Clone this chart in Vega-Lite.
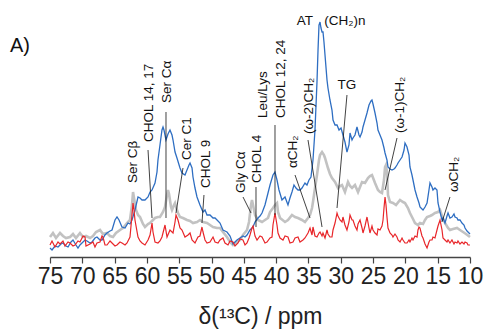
{
  "$schema": "https://vega.github.io/schema/vega-lite/v6.json",
  "width": 420,
  "height": 242,
  "autosize": {"type": "none"},
  "padding": {"left": 50, "top": 15, "right": 17, "bottom": 73},
  "background": "white",
  "config": {"view": {"stroke": null}, "font": "Liberation Sans"},
  "title": {"text": "A)", "anchor": "start", "frame": "group", "dx": -40, "dy": 52, "offset": 0, "baseline": "middle", "fontSize": 20, "fontWeight": "normal", "font": "Liberation Sans", "color": "#111"},
  "datasets": {
    "grey": [
      {"x":75.00,"y":20},{"x":74.54,"y":24},{"x":74.07,"y":19},{"x":73.45,"y":24},{"x":72.99,"y":21},{"x":72.52,"y":19},{"x":71.90,"y":20},{"x":71.44,"y":23},{"x":70.98,"y":19},{"x":70.36,"y":24},{"x":69.89,"y":20},{"x":69.43,"y":21},{"x":68.81,"y":19},{"x":68.35,"y":21},{"x":67.88,"y":25},{"x":67.26,"y":27},{"x":66.80,"y":23},{"x":66.18,"y":24},{"x":65.71,"y":21},{"x":65.25,"y":20},{"x":64.79,"y":24},{"x":64.17,"y":27},{"x":63.70,"y":29},{"x":63.08,"y":34},{"x":62.62,"y":37},{"x":62.31,"y":52},{"x":62.15,"y":65},{"x":62.00,"y":59},{"x":61.69,"y":47},{"x":61.38,"y":42},{"x":61.07,"y":40},{"x":60.61,"y":33},{"x":60.30,"y":30},{"x":59.83,"y":33},{"x":59.52,"y":34},{"x":59.06,"y":37},{"x":58.75,"y":39},{"x":58.29,"y":40},{"x":57.98,"y":40},{"x":57.51,"y":45},{"x":57.20,"y":50},{"x":56.89,"y":62},{"x":56.74,"y":67},{"x":56.58,"y":63},{"x":56.27,"y":50},{"x":56.12,"y":47},{"x":55.81,"y":52},{"x":55.65,"y":54},{"x":55.35,"y":47},{"x":55.19,"y":44},{"x":54.88,"y":40},{"x":54.42,"y":39},{"x":53.80,"y":37},{"x":53.33,"y":36},{"x":52.87,"y":34},{"x":52.25,"y":35},{"x":51.79,"y":37},{"x":51.32,"y":35},{"x":50.70,"y":34},{"x":50.24,"y":32},{"x":49.77,"y":30},{"x":49.15,"y":29},{"x":48.69,"y":29},{"x":48.23,"y":25},{"x":47.61,"y":20},{"x":47.14,"y":15},{"x":46.68,"y":12},{"x":46.06,"y":15},{"x":45.60,"y":17},{"x":45.13,"y":22},{"x":44.51,"y":27},{"x":44.20,"y":35},{"x":43.89,"y":52},{"x":43.74,"y":57},{"x":43.58,"y":52},{"x":43.27,"y":42},{"x":42.81,"y":37},{"x":42.19,"y":35},{"x":41.73,"y":37},{"x":41.26,"y":39},{"x":40.95,"y":45},{"x":40.49,"y":49},{"x":40.18,"y":52},{"x":39.87,"y":54},{"x":39.71,"y":45},{"x":39.40,"y":39},{"x":38.63,"y":35},{"x":38.17,"y":37},{"x":37.55,"y":42},{"x":37.08,"y":40},{"x":36.62,"y":39},{"x":36.00,"y":37},{"x":35.54,"y":35},{"x":35.07,"y":39},{"x":34.76,"y":42},{"x":34.45,"y":49},{"x":34.30,"y":55},{"x":33.99,"y":69},{"x":33.68,"y":82},{"x":33.37,"y":97},{"x":33.21,"y":102},{"x":32.90,"y":105},{"x":32.60,"y":102},{"x":32.44,"y":99},{"x":31.98,"y":89},{"x":31.67,"y":83},{"x":31.36,"y":79},{"x":30.89,"y":75},{"x":30.43,"y":69},{"x":30.12,"y":71},{"x":29.81,"y":72},{"x":29.35,"y":65},{"x":28.88,"y":75},{"x":28.57,"y":71},{"x":28.26,"y":69},{"x":27.80,"y":72},{"x":27.33,"y":65},{"x":27.02,"y":70},{"x":26.71,"y":75},{"x":26.25,"y":74},{"x":25.79,"y":79},{"x":25.48,"y":81},{"x":25.17,"y":82},{"x":24.70,"y":74},{"x":24.24,"y":67},{"x":23.93,"y":65},{"x":23.62,"y":64},{"x":23.31,"y":77},{"x":23.15,"y":90},{"x":23.00,"y":92},{"x":22.85,"y":85},{"x":22.69,"y":62},{"x":22.38,"y":55},{"x":21.92,"y":54},{"x":21.45,"y":52},{"x":20.83,"y":57},{"x":20.37,"y":55},{"x":20.06,"y":54},{"x":19.60,"y":49},{"x":19.29,"y":44},{"x":18.82,"y":38},{"x":18.51,"y":34},{"x":18.05,"y":32},{"x":17.74,"y":34},{"x":17.27,"y":33},{"x":16.96,"y":37},{"x":16.65,"y":40},{"x":16.19,"y":41},{"x":15.88,"y":42},{"x":15.42,"y":44},{"x":14.95,"y":45},{"x":14.64,"y":47},{"x":14.33,"y":41},{"x":13.87,"y":34},{"x":13.40,"y":29},{"x":13.10,"y":27},{"x":12.63,"y":28},{"x":12.01,"y":29},{"x":11.55,"y":27},{"x":11.08,"y":25},{"x":10.62,"y":23},{"x":10.00,"y":20}
    ],
    "blue": [
      {"x":75.00,"y":9},{"x":74.69,"y":7},{"x":74.23,"y":11},{"x":73.76,"y":10},{"x":73.30,"y":13},{"x":72.99,"y":14},{"x":72.52,"y":11},{"x":72.21,"y":10},{"x":71.75,"y":15},{"x":71.44,"y":17},{"x":70.98,"y":12},{"x":70.67,"y":9},{"x":70.36,"y":12},{"x":70.05,"y":14},{"x":69.58,"y":17},{"x":69.27,"y":16},{"x":68.81,"y":14},{"x":68.50,"y":15},{"x":68.04,"y":19},{"x":67.73,"y":20},{"x":67.26,"y":17},{"x":66.95,"y":17},{"x":66.49,"y":22},{"x":66.18,"y":24},{"x":65.71,"y":26},{"x":65.40,"y":27},{"x":64.94,"y":37},{"x":64.63,"y":40},{"x":64.32,"y":37},{"x":63.86,"y":30},{"x":63.39,"y":29},{"x":62.93,"y":34},{"x":62.62,"y":33},{"x":62.31,"y":37},{"x":61.85,"y":47},{"x":61.38,"y":60},{"x":61.07,"y":59},{"x":60.76,"y":57},{"x":60.30,"y":57},{"x":59.83,"y":60},{"x":59.52,"y":65},{"x":59.21,"y":67},{"x":58.75,"y":74},{"x":58.44,"y":85},{"x":58.29,"y":97},{"x":57.98,"y":112},{"x":57.67,"y":127},{"x":57.51,"y":130},{"x":57.36,"y":127},{"x":57.05,"y":117},{"x":56.74,"y":123},{"x":56.43,"y":127},{"x":56.12,"y":122},{"x":55.96,"y":117},{"x":55.65,"y":105},{"x":55.35,"y":99},{"x":54.88,"y":89},{"x":54.57,"y":84},{"x":54.11,"y":82},{"x":53.80,"y":87},{"x":53.49,"y":92},{"x":53.33,"y":94},{"x":53.02,"y":89},{"x":52.87,"y":80},{"x":52.56,"y":69},{"x":52.25,"y":60},{"x":51.79,"y":52},{"x":51.32,"y":45},{"x":51.01,"y":47},{"x":50.70,"y":42},{"x":50.24,"y":42},{"x":49.77,"y":39},{"x":49.46,"y":39},{"x":49.15,"y":37},{"x":48.69,"y":34},{"x":48.23,"y":27},{"x":47.92,"y":26},{"x":47.61,"y":25},{"x":47.14,"y":21},{"x":46.68,"y":13},{"x":46.37,"y":15},{"x":46.06,"y":17},{"x":45.60,"y":19},{"x":45.13,"y":21},{"x":44.82,"y":20},{"x":44.51,"y":22},{"x":44.05,"y":27},{"x":43.58,"y":30},{"x":43.27,"y":35},{"x":42.81,"y":39},{"x":42.50,"y":41},{"x":42.19,"y":44},{"x":41.73,"y":52},{"x":41.26,"y":64},{"x":40.95,"y":72},{"x":40.49,"y":82},{"x":40.18,"y":85},{"x":39.87,"y":77},{"x":39.56,"y":67},{"x":39.10,"y":57},{"x":38.79,"y":59},{"x":38.63,"y":60},{"x":38.17,"y":52},{"x":37.86,"y":59},{"x":37.55,"y":65},{"x":37.24,"y":72},{"x":36.93,"y":69},{"x":36.62,"y":67},{"x":36.31,"y":67},{"x":36.00,"y":69},{"x":35.54,"y":74},{"x":35.23,"y":72},{"x":34.92,"y":77},{"x":34.61,"y":80},{"x":34.30,"y":97},{"x":33.99,"y":127},{"x":33.83,"y":152},{"x":33.68,"y":175},{"x":33.52,"y":207},{"x":33.37,"y":232},{"x":33.21,"y":235},{"x":33.06,"y":229},{"x":32.90,"y":225},{"x":32.75,"y":225},{"x":32.60,"y":215},{"x":32.44,"y":202},{"x":32.13,"y":177},{"x":31.98,"y":169},{"x":31.67,"y":157},{"x":31.36,"y":147},{"x":31.20,"y":137},{"x":30.89,"y":132},{"x":30.58,"y":132},{"x":30.27,"y":127},{"x":29.96,"y":129},{"x":29.66,"y":122},{"x":29.35,"y":115},{"x":29.04,"y":105},{"x":28.73,"y":112},{"x":28.57,"y":124},{"x":28.26,"y":117},{"x":28.11,"y":119},{"x":27.80,"y":122},{"x":27.49,"y":130},{"x":27.18,"y":122},{"x":27.02,"y":120},{"x":26.71,"y":125},{"x":26.56,"y":130},{"x":26.25,"y":137},{"x":25.94,"y":144},{"x":25.63,"y":152},{"x":25.48,"y":154},{"x":25.32,"y":156},{"x":25.17,"y":157},{"x":25.01,"y":153},{"x":24.70,"y":144},{"x":24.39,"y":134},{"x":24.24,"y":127},{"x":23.93,"y":122},{"x":23.62,"y":117},{"x":23.31,"y":109},{"x":23.15,"y":104},{"x":22.85,"y":97},{"x":22.69,"y":90},{"x":22.38,"y":88},{"x":22.07,"y":87},{"x":21.76,"y":88},{"x":21.61,"y":89},{"x":21.30,"y":92},{"x":21.14,"y":94},{"x":20.83,"y":97},{"x":20.52,"y":100},{"x":20.21,"y":107},{"x":20.06,"y":114},{"x":19.90,"y":112},{"x":19.75,"y":110},{"x":19.44,"y":102},{"x":19.29,"y":90},{"x":18.98,"y":82},{"x":18.82,"y":77},{"x":18.51,"y":67},{"x":18.20,"y":60},{"x":17.89,"y":54},{"x":17.74,"y":50},{"x":17.43,"y":48},{"x":17.27,"y":47},{"x":16.96,"y":50},{"x":16.65,"y":54},{"x":16.35,"y":67},{"x":16.19,"y":74},{"x":15.88,"y":70},{"x":15.73,"y":67},{"x":15.42,"y":69},{"x":15.11,"y":67},{"x":14.95,"y":54},{"x":14.64,"y":45},{"x":14.33,"y":37},{"x":14.18,"y":39},{"x":13.87,"y":34},{"x":13.56,"y":41},{"x":13.40,"y":44},{"x":13.10,"y":39},{"x":12.79,"y":40},{"x":12.48,"y":43},{"x":12.32,"y":40},{"x":12.01,"y":39},{"x":11.86,"y":37},{"x":11.55,"y":37},{"x":11.24,"y":34},{"x":10.93,"y":32},{"x":10.77,"y":29},{"x":10.46,"y":26},{"x":10.31,"y":25},{"x":10.00,"y":23}
    ],
    "red": [
      {"x":75.00,"y":12},{"x":74.69,"y":16},{"x":74.23,"y":10},{"x":73.76,"y":15},{"x":73.45,"y":13},{"x":72.99,"y":16},{"x":72.68,"y":11},{"x":72.21,"y":15},{"x":71.90,"y":14},{"x":71.44,"y":11},{"x":71.13,"y":12},{"x":70.67,"y":16},{"x":70.36,"y":15},{"x":69.89,"y":21},{"x":69.58,"y":20},{"x":69.43,"y":11},{"x":68.81,"y":13},{"x":68.35,"y":15},{"x":68.04,"y":10},{"x":67.73,"y":14},{"x":67.26,"y":15},{"x":66.95,"y":21},{"x":66.80,"y":20},{"x":66.49,"y":12},{"x":66.18,"y":12},{"x":65.71,"y":16},{"x":65.40,"y":14},{"x":64.94,"y":11},{"x":64.63,"y":12},{"x":64.17,"y":15},{"x":63.86,"y":14},{"x":63.39,"y":12},{"x":63.08,"y":14},{"x":62.62,"y":20},{"x":62.31,"y":42},{"x":62.15,"y":54},{"x":62.00,"y":47},{"x":61.85,"y":37},{"x":61.38,"y":20},{"x":61.07,"y":16},{"x":60.76,"y":14},{"x":60.30,"y":12},{"x":59.83,"y":17},{"x":59.52,"y":22},{"x":59.21,"y":34},{"x":59.06,"y":25},{"x":58.75,"y":15},{"x":58.29,"y":14},{"x":57.98,"y":16},{"x":57.67,"y":20},{"x":57.20,"y":32},{"x":56.89,"y":20},{"x":56.43,"y":27},{"x":55.96,"y":24},{"x":55.65,"y":35},{"x":55.50,"y":42},{"x":55.19,"y":37},{"x":54.88,"y":29},{"x":54.57,"y":27},{"x":54.11,"y":20},{"x":53.64,"y":22},{"x":53.33,"y":24},{"x":53.02,"y":17},{"x":52.56,"y":14},{"x":52.10,"y":20},{"x":51.79,"y":21},{"x":51.48,"y":30},{"x":51.32,"y":25},{"x":51.01,"y":17},{"x":50.70,"y":14},{"x":50.24,"y":15},{"x":49.77,"y":20},{"x":49.46,"y":15},{"x":49.00,"y":14},{"x":48.69,"y":17},{"x":48.23,"y":19},{"x":47.92,"y":14},{"x":47.45,"y":12},{"x":47.14,"y":16},{"x":46.68,"y":15},{"x":46.37,"y":11},{"x":45.90,"y":14},{"x":45.60,"y":18},{"x":45.13,"y":17},{"x":44.82,"y":12},{"x":44.51,"y":14},{"x":44.20,"y":19},{"x":44.05,"y":22},{"x":43.74,"y":29},{"x":43.58,"y":31},{"x":43.27,"y":21},{"x":42.96,"y":17},{"x":42.50,"y":21},{"x":42.19,"y":20},{"x":41.73,"y":14},{"x":41.42,"y":15},{"x":40.95,"y":19},{"x":40.64,"y":20},{"x":40.49,"y":32},{"x":40.18,"y":44},{"x":39.87,"y":32},{"x":39.71,"y":24},{"x":39.40,"y":19},{"x":38.94,"y":17},{"x":38.63,"y":21},{"x":38.17,"y":20},{"x":37.86,"y":14},{"x":37.39,"y":15},{"x":37.08,"y":19},{"x":36.62,"y":20},{"x":36.31,"y":15},{"x":35.85,"y":17},{"x":35.54,"y":19},{"x":35.07,"y":24},{"x":34.76,"y":29},{"x":34.45,"y":22},{"x":34.30,"y":30},{"x":33.99,"y":21},{"x":33.68,"y":20},{"x":33.37,"y":24},{"x":33.21,"y":25},{"x":32.90,"y":21},{"x":32.75,"y":24},{"x":32.44,"y":19},{"x":32.13,"y":27},{"x":31.98,"y":23},{"x":31.67,"y":20},{"x":31.36,"y":20},{"x":31.20,"y":27},{"x":30.89,"y":34},{"x":30.58,"y":44},{"x":30.43,"y":41},{"x":30.12,"y":37},{"x":29.81,"y":35},{"x":29.66,"y":40},{"x":29.35,"y":32},{"x":29.04,"y":27},{"x":28.73,"y":35},{"x":28.57,"y":42},{"x":28.26,"y":37},{"x":28.11,"y":37},{"x":27.80,"y":31},{"x":27.49,"y":27},{"x":27.33,"y":33},{"x":27.02,"y":37},{"x":26.71,"y":29},{"x":26.56,"y":24},{"x":26.25,"y":31},{"x":25.94,"y":40},{"x":25.63,"y":29},{"x":25.48,"y":24},{"x":25.17,"y":31},{"x":25.01,"y":27},{"x":24.70,"y":24},{"x":24.39,"y":22},{"x":24.24,"y":28},{"x":23.93,"y":27},{"x":23.62,"y":31},{"x":23.46,"y":37},{"x":23.31,"y":49},{"x":23.15,"y":60},{"x":23.00,"y":52},{"x":22.85,"y":40},{"x":22.69,"y":29},{"x":22.38,"y":24},{"x":22.07,"y":22},{"x":21.92,"y":20},{"x":21.61,"y":23},{"x":21.30,"y":20},{"x":21.14,"y":17},{"x":20.83,"y":15},{"x":20.52,"y":19},{"x":20.37,"y":17},{"x":20.06,"y":14},{"x":19.75,"y":14},{"x":19.44,"y":17},{"x":19.29,"y":15},{"x":18.98,"y":19},{"x":18.82,"y":17},{"x":18.51,"y":21},{"x":18.20,"y":20},{"x":18.05,"y":27},{"x":17.89,"y":30},{"x":17.74,"y":29},{"x":17.43,"y":21},{"x":17.27,"y":19},{"x":16.96,"y":13},{"x":16.65,"y":9},{"x":16.35,"y":15},{"x":16.19,"y":17},{"x":15.88,"y":17},{"x":15.73,"y":20},{"x":15.42,"y":19},{"x":15.11,"y":27},{"x":14.95,"y":31},{"x":14.64,"y":37},{"x":14.33,"y":27},{"x":14.18,"y":19},{"x":13.87,"y":17},{"x":13.56,"y":15},{"x":13.40,"y":17},{"x":13.10,"y":14},{"x":12.79,"y":17},{"x":12.48,"y":13},{"x":12.32,"y":15},{"x":12.01,"y":14},{"x":11.86,"y":16},{"x":11.55,"y":13},{"x":11.24,"y":15},{"x":10.93,"y":13},{"x":10.77,"y":15},{"x":10.46,"y":14},{"x":10.31,"y":12},{"x":10.00,"y":12}
    ],
    "leaders": [
      {"x":59.83,"y":107,"x2":59.21,"y2":39},
      {"x":57.05,"y":145,"x2":57.05,"y2":39},
      {"x":54.42,"y":89,"x2":55.50,"y2":44},
      {"x":51.17,"y":62,"x2":51.48,"y2":34},
      {"x":45.13,"y":60,"x2":43.89,"y2":44},
      {"x":43.12,"y":70,"x2":43.12,"y2":30},
      {"x":40.18,"y":132,"x2":40.18,"y2":42},
      {"x":37.08,"y":82,"x2":34.76,"y2":39},
      {"x":35.07,"y":117,"x2":32.90,"y2":30},
      {"x":29.04,"y":162,"x2":30.58,"y2":49},
      {"x":21.30,"y":119,"x2":23.15,"y2":67},
      {"x":13.10,"y":60,"x2":14.33,"y2":35}
    ],
    "vlabels": [
      {"label":"Ser Cβ","x":62.15,"y":74},
      {"label":"CHOL 14, 17","x":59.68,"y":115},
      {"label":"Ser Cα","x":56.89,"y":154},
      {"label":"Cer C1","x":53.80,"y":97},
      {"label":"CHOL 9","x":50.86,"y":69},
      {"label":"Gly Cα","x":45.44,"y":64},
      {"label":"CHOL 4","x":42.96,"y":74},
      {"label":"Leu/Lys","x":42.04,"y":139},
      {"label":"CHOL 12, 24","x":39.25,"y":139},
      {"label":"αCH₂","x":37.39,"y":89},
      {"label":"(ω-2)CH₂","x":34.92,"y":123},
      {"label":"(ω-1)CH₂","x":20.83,"y":124},
      {"label":"ωCH₂","x":12.48,"y":65}
    ],
    "hlabels": [
      {"label":"AT","x":35.54,"y":236},
      {"label":"(CH₂)n","x":29.35,"y":236},
      {"label":"TG","x":29.04,"y":172}
    ]
  },
  "encoding": {
    "x": {"field": "x", "type": "quantitative", "scale": {"domain": [10, 75], "reverse": true, "nice": false, "zero": false},
      "axis": {"values": [75,70,65,60,55,50,45,40,35,30,25,20,15,10], "format": "d", "grid": false, "labelFontSize": 23, "labelFont": "Liberation Sans", "labelColor": "#222", "labelPadding": 2, "labelFlush": false, "labelOverlap": false, "tickColor": "#444", "tickWidth": 1.2, "tickSize": 6, "domainColor": "#444", "domainWidth": 1.3, "title": "δ(¹³C) / ppm", "titleFont": "Liberation Sans", "titleFontSize": 23, "titleFontWeight": "normal", "titleColor": "#222", "titlePadding": 17}},
    "y": {"field": "y", "type": "quantitative", "scale": {"domain": [0, 242], "nice": false, "zero": false}, "axis": null}
  },
  "layer": [
    {"data": {"name": "grey"}, "mark": {"type": "line", "color": "#c2c2c2", "strokeWidth": 2.6, "interpolate": "linear"}},
    {"data": {"name": "blue"}, "mark": {"type": "line", "color": "#2e6ec2", "strokeWidth": 1.3}},
    {"data": {"name": "red"}, "mark": {"type": "line", "color": "#e8262a", "strokeWidth": 1.2}},
    {"data": {"name": "leaders"}, "mark": {"type": "rule", "color": "#111", "strokeWidth": 0.8}, "encoding": {"x2": {"field": "x2"}, "y2": {"field": "y2"}}},
    {"data": {"name": "vlabels"}, "mark": {"type": "text", "angle": 270, "align": "left", "baseline": "middle", "fontSize": 13.5, "font": "Liberation Sans", "color": "#111"}, "encoding": {"text": {"field": "label"}}},
    {"data": {"name": "hlabels"}, "mark": {"type": "text", "align": "center", "baseline": "middle", "fontSize": 13.5, "font": "Liberation Sans", "color": "#111"}, "encoding": {"text": {"field": "label"}}}
  ]
}
